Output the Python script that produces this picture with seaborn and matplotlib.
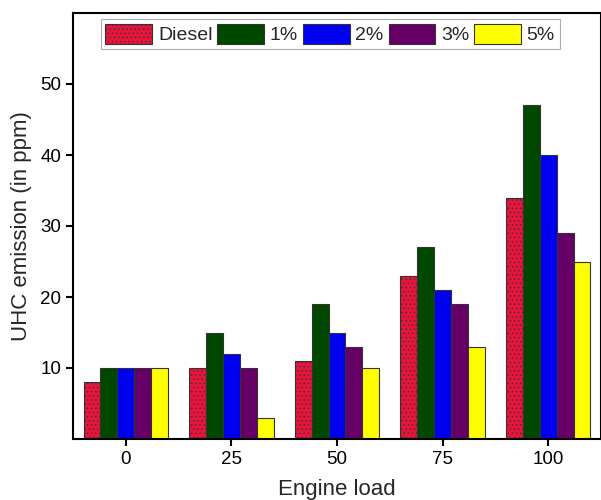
import matplotlib
matplotlib.use("Agg")
import matplotlib.pyplot as plt
import seaborn as sns
import pandas as pd
from matplotlib.patches import Patch

loads = ["0", "25", "50", "75", "100"]
series = ["Diesel", "1%", "2%", "3%", "5%"]
diesel = [8, 10, 11, 23, 34]
p1 = [10, 15, 19, 27, 47]
p2 = [10, 12, 15, 21, 40]
p3 = [10, 10, 13, 19, 29]
p5 = [10, 3, 10, 13, 25]

colors = ["#E8143C", "#004800", "#0000F0", "#660066", "#FFFF00"]
hatches = ["....", "", "~~~~", "", "~~~~"]

rows = []
for name, vals in zip(series, [diesel, p1, p2, p3, p5]):
    for l, v in zip(loads, vals):
        rows.append({"Engine load": l, "value": v, "series": name})
df = pd.DataFrame(rows)

sns.set_style("ticks")
plt.rcParams["font.family"] = ["Liberation Sans", "DejaVu Sans"]
plt.rcParams["hatch.linewidth"] = 0.5
plt.rcParams["hatch.color"] = "#222222"

fig = plt.figure(figsize=(6.01, 5.0), dpi=100)
ax = fig.add_axes([0.1215, 0.122, 0.8785, 0.852])

sns.barplot(data=df, x="Engine load", y="value", hue="series", order=loads,
            hue_order=series, palette=colors, width=0.8, saturation=1,
            edgecolor="#333333", linewidth=0.8, ax=ax, legend=False)

for i, cont in enumerate(ax.containers):
    for p in cont.patches:
        p.set_hatch(hatches[i])

ax.set_ylim(0, 60)
ax.set_xlim(-0.5, 4.5)
ax.set_yticks([10, 20, 30, 40, 50])
ax.tick_params(axis="both", labelsize=13.5, direction="out", length=5, width=1.5, colors="black")
ax.set_xlabel("Engine load", fontsize=16, labelpad=8)
ax.set_ylabel("UHC emission (in ppm)", fontsize=16, labelpad=6)
for s in ax.spines.values():
    s.set_linewidth(1.5)
    s.set_color("black")

handles = [Patch(facecolor=c, edgecolor="#333333", hatch=h, linewidth=0.8) for c, h in zip(colors, hatches)]
leg = ax.legend(handles, series, ncol=5, loc="upper center", bbox_to_anchor=(0.487, 1.0),
                fontsize=14, handlelength=2.4, handleheight=1.2, columnspacing=0.25,
                handletextpad=0.3, frameon=True, fancybox=False, borderpad=0.25,
                borderaxespad=0.3)
leg.get_frame().set_edgecolor("#999999")
leg.get_frame().set_linewidth(0.8)

fig.savefig("out.png", dpi=100)
